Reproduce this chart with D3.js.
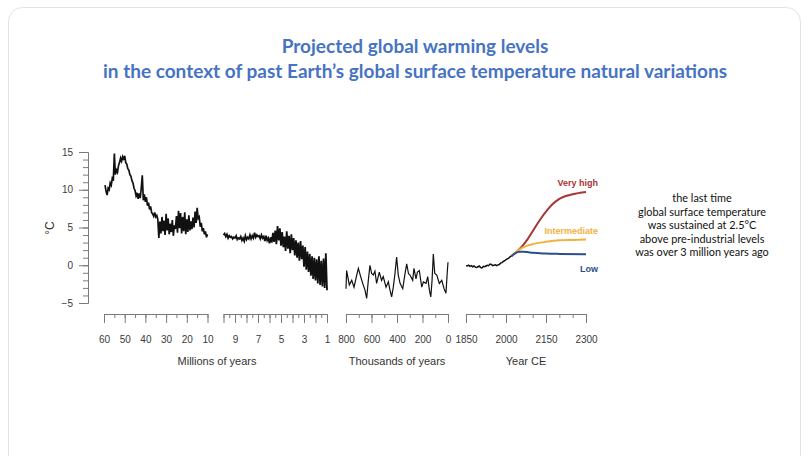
<!DOCTYPE html>
<html>
<head>
  <meta charset="utf-8">
  <title>Projected global warming levels</title>
  <script type="text/javascript" src="https://cdn.jsdelivr.net/npm/d3@7/dist/d3.min.js"></script>
  <style>
    body { margin:0; background:#fff; }
    svg { display:block; }
  </style>
</head>
<body>
<div id="chart"></div>

<script type="text/javascript">
// ---- data ----
// millions of years ago, 60 -> 10 Ma, one value every 0.5 Ma
var maStart1 = 59.5, maStep1 = 0.5;
var tempMa1 = [10.6,9.8,9.3,10.2,10.0,10.9,10.6,11.5,11.2,14.8,
  12.0,12.6,12.3,13.2,13.6,14.2,13.8,14.4,14.1,14.5,
  13.6,13.4,12.8,12.6,12.0,11.8,11.2,10.9,10.2,9.9,
  9.2,9.6,8.8,9.5,8.9,10.2,11.9,8.6,9.4,8.4,
  9.0,7.9,8.3,7.4,7.8,7.0,6.8,6.5,7.0,6.4,
  6.6,6.1,3.6,5.8,4.2,6.4,4.5,5.9,4.0,6.8,
  4.6,6.2,4.1,5.5,4.4,6.0,3.9,5.3,4.8,6.5,
  4.3,7.2,4.9,6.9,4.2,6.4,4.5,7.0,4.1,6.1,
  4.4,6.6,4.6,5.8,4.8,6.3,5.0,7.1,5.6,7.6,
  6.2,6.4,5.1,5.6,4.5,4.9,4.1,4.5,3.7,4.1];
// millions of years ago, 10 -> 1 Ma, one value every 0.1 Ma
var maStart2 = 10.0, maStep2 = 0.1;
var tempMa2 = [4.0,4.2,3.8,4.1,3.6,3.9,3.7,3.8,3.5,3.7,
  3.6,3.9,3.4,3.6,3.5,3.8,3.3,3.6,3.2,3.9,
  3.4,3.7,3.5,4.0,3.5,3.9,3.6,4.3,3.7,4.0,
  3.8,3.9,3.5,4.0,3.6,3.8,3.2,3.9,3.3,3.6,
  2.9,3.7,3.0,4.3,3.1,4.6,2.8,5.2,3.3,4.9,
  2.6,4.4,2.4,3.8,1.9,4.5,2.2,3.9,1.6,4.1,
  2.0,3.6,1.3,3.3,1.0,3.0,0.6,3.2,0.8,2.6,
  -0.2,2.4,-0.6,1.8,-0.9,1.5,-1.4,1.2,-1.8,1.0,
  -2.0,0.8,-2.4,1.2,-2.6,0.6,-2.8,0.9,-3.0,1.6,-3.3];
// thousands of years ago
var kaYears = [800,795,774,755,737,716,703,685,669,651,638,625,612,599,586,573,560,539,521,508,
  486,468,455,442,429,416,403,390,376,355,337,324,310,298,277,267,251,240,225,206,
  193,172,159,146,135,125,115,104,88,68,49,31,16,5,0];
var kaTemp = [-3.1,-0.7,-2.6,-2.0,-2.9,-1.3,-0.4,-1.5,-2.4,-3.3,-4.4,-2.0,0.0,-1.1,-1.3,-0.8,-2.4,-0.9,-2.0,-1.5,
  -2.9,-2.2,-3.3,-4.2,-2.9,-1.1,1.1,-1.3,-2.4,-3.1,-1.1,0.2,-1.1,-1.3,-2.0,-0.4,-1.8,-0.9,-0.7,-2.9,
  -2.2,-2.4,-1.5,-3.3,-4.2,-2.0,1.5,-1.1,-1.3,-2.4,-2.0,-3.1,-3.7,-0.7,0.4];
// observed, Year CE
var histYears = [1850,1855,1860,1865,1870,1875,1880,1885,1890,1895,1900,1905,1910,1915,1920,1925,1930,1935,
  1940,1945,1950,1955,1960,1965,1970,1975,1980,1985,1990,1995,2000,2005,2010,2015,2020];
var histTemp = [-0.05,-0.1,0.0,-0.15,-0.05,-0.2,-0.1,-0.25,-0.3,-0.2,-0.1,-0.3,-0.35,-0.15,-0.2,-0.1,0.0,-0.05,
  0.15,0.1,-0.05,0.0,0.05,-0.05,0.05,0.1,0.3,0.35,0.5,0.6,0.75,0.85,0.95,1.1,1.2];
// scenarios
var scenarios = ['Very high','Intermediate','Low'];
var scenColors = ['#a83434','#f2b03e','#2c4f8c'];
var veryHighYears = [2020,2040,2060,2080,2100,2125,2150,2175,2200,2250,2300];
var veryHighTemp = [1.2,1.8,2.5,3.4,4.5,5.9,7.1,8.1,8.8,9.4,9.7];
var interYears = [2020,2040,2060,2080,2100,2150,2200,2250,2300];
var interTemp = [1.2,1.8,2.3,2.6,2.8,3.1,3.3,3.35,3.4];
var lowYears = [2020,2035,2050,2065,2080,2100,2150,2200,2300];
var lowTemp = [1.2,1.6,1.8,1.8,1.75,1.65,1.55,1.5,1.45];
var scenLabelY = [11.0, 4.6, -0.4];

// ticks
var yTicks = [-5,0,5,10,15];
var ma1Ticks = [60,50,40,30,20,10];
var ma2Ticks = [9,7,5,3,1];
var kaTicks = [800,600,400,200,0];
var ceTicks = [1850,2000,2150,2300];
var note = ['the last time','global surface temperature','was sustained at 2.5\u00B0C',
  'above pre-industrial levels','was over 3 million years ago'];

// ---- drawing ----
var w = 808, h = 456;
var svg = d3.select('#chart').append('svg')
  .attr('width', w)
  .attr('height', h);

svg.append('rect')
  .attr('x', 8.5).attr('y', 7.5)
  .attr('width', 792).attr('height', 480)
  .attr('rx', 14)
  .attr('fill', '#fff')
  .attr('stroke', '#dfe4e8');

var titleLines = ['Projected global warming levels',
  'in the context of past Earth\u2019s global surface temperature natural variations'];
svg.selectAll('.title')
  .data(titleLines)
  .enter()
  .append('text')
  .attr('class', 'title')
  .attr('x', 415)
  .attr('y', function(d,i){ return 53 + i * 25; })
  .attr('text-anchor', 'middle')
  .attr('font-family', 'Lato, sans-serif')
  .attr('font-weight', 'bold')
  .attr('font-size', '19px')
  .attr('fill', '#4673c2')
  .text(function(d){ return d; });

var y = d3.scaleLinear().domain([-5, 15]).range([303, 152]);
var xMa1 = d3.scaleLinear().domain([60, 10]).range([104, 207.5]);
var xMa2 = d3.scaleLinear().domain([10, 1]).range([223.5, 327]);
var xKa = d3.scaleLinear().domain([800, 0]).range([346, 448]);
var xCE = d3.scaleLinear().domain([1850, 2300]).range([466, 586]);

var axisY = 314;
var axisColor = '#7a7a7a';

function styleAxis(g, showLabels) {
  g.select('.domain').attr('stroke', axisColor);
  g.selectAll('.tick line').attr('stroke', axisColor);
  g.selectAll('.tick text')
    .attr('fill', '#3a3a3a')
    .attr('font-family', 'Liberation Sans, Arial, sans-serif')
    .attr('font-size', '10px');
  if (!showLabels) g.selectAll('.tick text').remove();
}

// y axis
var yMinor = d3.range(-5, 16, 1);
svg.append('g')
  .attr('transform', 'translate(88,0)')
  .call(d3.axisLeft(y).tickValues(yMinor).tickSize(5).tickSizeOuter(0).tickFormat(''))
  .call(styleAxis, false);
svg.append('g')
  .attr('transform', 'translate(88,0)')
  .call(d3.axisLeft(y).tickValues(yTicks).tickSize(9).tickSizeOuter(0).tickPadding(6))
  .call(styleAxis, true);

svg.append('text')
  .attr('transform', 'translate(54,228) rotate(-90)')
  .attr('text-anchor', 'middle')
  .attr('font-family', 'Liberation Sans, Arial, sans-serif')
  .attr('font-size', '12px')
  .attr('fill', '#333')
  .text('\u00B0C');

// x axes, one per time segment
function drawX(scale, minor, major, fmt) {
  svg.append('g')
    .attr('transform', 'translate(0,' + axisY + ')')
    .call(d3.axisBottom(scale).tickValues(minor).tickSize(4).tickSizeOuter(0).tickFormat(''))
    .call(styleAxis, false);
  svg.append('g')
    .attr('transform', 'translate(0,' + axisY + ')')
    .call(d3.axisBottom(scale).tickValues(major).tickSize(9).tickSizeOuter(0).tickPadding(13).tickFormat(fmt))
    .call(styleAxis, true);
}
drawX(xMa1, d3.range(60, 9, -5), ma1Ticks, d3.format('d'));
drawX(xMa2, d3.range(10, 0.9, -0.5), d3.range(10, 0.9, -1), function(d){
  return ma2Ticks.indexOf(d) >= 0 ? d : '';
});
drawX(xKa, d3.range(800, -1, -100), kaTicks, d3.format('d'));
drawX(xCE, d3.range(1850, 2301, 50), ceTicks, d3.format('d'));

var xTitles = [['Millions of years', 217], ['Thousands of years', 397], ['Year CE', 526]];
svg.selectAll('.xtitle')
  .data(xTitles)
  .enter()
  .append('text')
  .attr('class', 'xtitle')
  .attr('x', function(d){ return d[1]; })
  .attr('y', 365)
  .attr('text-anchor', 'middle')
  .attr('font-family', 'Liberation Sans, Arial, sans-serif')
  .attr('font-size', '11px')
  .attr('fill', '#333')
  .text(function(d){ return d[0]; });

// temperature lines
var line1 = d3.line()
  .x(function(d,i){ return xMa1(maStart1 - i * maStep1); })
  .y(function(d){ return y(d); });
svg.append('path')
  .datum(tempMa1)
  .attr('d', line1)
  .attr('fill', 'none')
  .attr('stroke', '#111')
  .attr('stroke-width', 1.7);

var line2 = d3.line()
  .x(function(d,i){ return xMa2(maStart2 - i * maStep2); })
  .y(function(d){ return y(d); });
svg.append('path')
  .datum(tempMa2)
  .attr('d', line2)
  .attr('fill', 'none')
  .attr('stroke', '#111')
  .attr('stroke-width', 1.8);

var lineKa = d3.line()
  .x(function(d){ return xKa(d[0]); })
  .y(function(d){ return y(d[1]); });
svg.append('path')
  .datum(d3.zip(kaYears, kaTemp))
  .attr('d', lineKa)
  .attr('fill', 'none')
  .attr('stroke', '#111')
  .attr('stroke-width', 1.2);

var lineCE = d3.line()
  .x(function(d){ return xCE(d[0]); })
  .y(function(d){ return y(d[1]); });
var lineCEsmooth = d3.line()
  .curve(d3.curveMonotoneX)
  .x(function(d){ return xCE(d[0]); })
  .y(function(d){ return y(d[1]); });

var scenData = [d3.zip(veryHighYears, veryHighTemp), d3.zip(interYears, interTemp), d3.zip(lowYears, lowTemp)];
svg.selectAll('.scen')
  .data(scenData)
  .enter()
  .append('path')
  .attr('class', 'scen')
  .attr('d', lineCEsmooth)
  .attr('fill', 'none')
  .attr('stroke', function(d,i){ return scenColors[i]; })
  .attr('stroke-width', 2);

svg.append('path')
  .datum(d3.zip(histYears, histTemp))
  .attr('d', lineCE)
  .attr('fill', 'none')
  .attr('stroke', '#111')
  .attr('stroke-width', 1.5);

svg.selectAll('.scenlabel')
  .data(scenarios)
  .enter()
  .append('text')
  .attr('class', 'scenlabel')
  .attr('x', 598)
  .attr('y', function(d,i){ return y(scenLabelY[i]) + 3.5; })
  .attr('text-anchor', 'end')
  .attr('font-family', 'Liberation Sans, Arial, sans-serif')
  .attr('font-weight', 'bold')
  .attr('font-size', '9px')
  .attr('fill', function(d,i){ return scenColors[i]; })
  .text(function(d){ return d; });

// note on the right
svg.selectAll('.note')
  .data(note)
  .enter()
  .append('text')
  .attr('class', 'note')
  .attr('x', 702)
  .attr('y', function(d,i){ return 202 + i * 13.5; })
  .attr('text-anchor', 'middle')
  .attr('font-family', 'Lato, sans-serif')
  .attr('font-size', '10.9px')
  .attr('fill', '#111')
  .text(function(d){ return d; });
</script>

</body>
</html>
